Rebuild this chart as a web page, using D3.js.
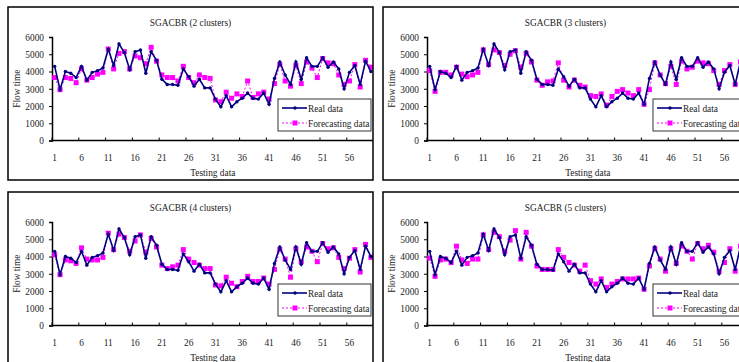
<!DOCTYPE html>
<html><head><meta charset="utf-8">
<script src="https://cdn.jsdelivr.net/npm/d3@7"></script>
<style>body{margin:0;background:#fff}svg{display:block}text{font-family:"Liberation Serif","Times New Roman",serif;fill:#222}</style>
</head><body>
<script>
const categories = d3.range(1, 61);
const tickLabels = [1,6,11,16,21,26,31,36,41,46,51,56];
const yTicks = [0,1000,2000,3000,4000,5000,6000];
const titles = ["SGACBR (2 clusters)","SGACBR (3 clusters)","SGACBR (4 clusters)","SGACBR (5 clusters)"];
const legendLabels = ["Real data","Forecasting data"];

const realData = [4300,2950,4000,3900,3650,4300,3500,3950,4050,4200,
  5300,4350,5600,5100,4100,5150,5250,3900,5150,4650,
  3550,3250,3250,3200,4150,3700,3150,3550,3050,3050,
  2400,1950,2600,1950,2250,2450,2750,2450,2400,2750,
  2100,3600,4550,3800,3250,4550,3550,4800,4300,4300,
  4800,4250,4550,4150,3000,3950,4350,3250,4600,4000];

const forecast2 = [3650,2950,3650,3600,3350,4150,3500,3650,3850,3950,
  5300,4150,5050,5150,4150,4900,4800,4450,5400,4600,
  3800,3650,3650,3450,4300,3650,3350,3800,3650,3600,
  2350,2250,2800,2450,2700,2550,3450,2500,2700,2800,
  2400,3300,4400,3450,3150,4350,3300,4550,4200,3650,
  4750,4500,4450,3800,3250,3450,4400,3100,4650,4250];

const forecast3 = [4050,2850,3950,3950,3800,4250,3850,3700,3800,3950,
  5250,4400,5250,5100,4350,5000,5200,4250,5050,4550,
  3500,3200,3400,3450,4500,3500,3100,3500,3200,3100,
  2600,2550,2700,2050,2550,2850,2950,2750,2600,2950,
  2100,2950,4500,3800,3300,4300,3250,4600,4150,4250,
  4600,4500,4450,4050,3250,4050,4400,3250,4550,4100];

const forecast4 = [4100,2950,3800,3750,3600,4500,3850,3800,3800,3950,
  5350,4400,5300,5100,4300,4900,5250,4250,5050,4550,
  3500,3300,3400,3500,4400,3850,3650,3500,3300,3300,
  2350,2300,2800,2450,2250,2550,2850,2550,2550,2750,
  2400,3250,4400,3850,2800,4450,3700,4550,4300,3700,
  4750,4450,4500,3950,3300,3900,4400,3100,4700,3950];

const forecast5 = [3900,2850,3800,3850,3650,4600,3800,3600,3850,3850,
  5250,4400,5400,5150,4300,4950,5500,3850,5400,4600,
  3450,3250,3250,3250,4400,3950,3650,3500,3150,3500,
  2600,2400,2700,2200,2400,2550,2700,2700,2700,2750,
  2100,3450,4450,3850,3150,4450,3600,4600,4300,3850,
  4750,4450,4650,4250,3150,3650,4450,3150,4600,4000];

const forecasts = [forecast2, forecast3, forecast4, forecast5];

const W = 739, H = 362;
const svg = d3.select("body").append("svg").attr("width", W).attr("height", H);

const panels = [
  {x: 8, y: 7}, {x: 383, y: 7}, {x: 8, y: 192}, {x: 383, y: 192}
];
const PW = 365, PH = 173;
const plotL = 44, plotTop = 30, plotBot = 133.5, band = 5.36;
const FS = 11, SX = 0.85;

// condensed text helper
function txt(parent, x, y, s, anchor, rot, fill) {
  const t = parent.append("g")
    .attr("transform", `translate(${x},${y})` + (rot ? ` rotate(${rot})` : "") + ` scale(${SX},1)`)
    .append("text").attr("text-anchor", anchor || "start").attr("font-size", FS).text(s);
  if (fill) t.attr("fill", fill);
  return t;
}

panels.forEach((p, idx) => {
  const cid = "clip" + idx;
  svg.append("clipPath").attr("id", cid).append("rect")
    .attr("x", p.x).attr("y", p.y).attr("width", PW).attr("height", PH);
  const g = svg.append("g").attr("clip-path", `url(#${cid})`)
    .append("g").attr("transform", `translate(${p.x},${p.y})`);

  const x = d3.scaleBand().domain(categories).range([plotL, plotL + band * categories.length]).padding(0);
  const y = d3.scaleLinear().domain([0, 6000]).range([plotBot, plotTop]);
  const cx = d => x(d) + x.bandwidth() / 2;

  txt(g, PW / 2, 19, titles[idx], "middle");

  // Y axis
  const ya = g.append("g").attr("transform", `translate(${plotL},0)`)
    .call(d3.axisLeft(y).tickValues(yTicks).tickSize(3).tickFormat(() => ""));
  ya.select(".domain").attr("stroke", "#000").attr("stroke-width", 1.5);
  ya.selectAll(".tick line").attr("stroke", "#000");
  yTicks.forEach(v => txt(g, plotL - 8, y(v) + 3.8, d3.format("d")(v), "end", 0, "#333"));

  // X axis
  const xa = g.append("g").attr("transform", `translate(0,${plotBot})`);
  xa.append("line").attr("x1", plotL).attr("x2", plotL + band * categories.length)
    .attr("stroke", "#000").attr("stroke-width", 1.5);
  xa.selectAll("line.t").data(tickLabels).join("line").attr("class", "t")
    .attr("x1", d => x(d)).attr("x2", d => x(d)).attr("y1", 0).attr("y2", -3)
    .attr("stroke", "#000");
  tickLabels.forEach(d => txt(xa, cx(d), 20, d, "middle", 0, "#333"));

  txt(g, plotL + band * 30, 169, "Testing data", "middle");
  txt(g, 12, (plotTop + plotBot) / 2, "Flow time", "middle", -90);

  const fc = forecasts[idx];
  const line = d3.line().x((d, i) => cx(categories[i])).y(d => y(d));

  // Forecast series
  g.append("path").datum(fc).attr("d", line).attr("fill", "none")
    .attr("stroke", "#ff00ff").attr("stroke-width", 1).attr("stroke-dasharray", "2,2");
  g.selectAll("rect.fm").data(fc).join("rect").attr("class", "fm")
    .attr("x", (d, i) => cx(categories[i]) - 2.5).attr("y", d => y(d) - 2.5)
    .attr("width", 5).attr("height", 5).attr("fill", "#ff00ff");

  // Real series
  g.append("path").datum(realData).attr("d", line).attr("fill", "none")
    .attr("stroke", "#000080").attr("stroke-width", 1.6);
  g.selectAll("circle.rm").data(realData).join("circle").attr("class", "rm")
    .attr("cx", (d, i) => cx(categories[i])).attr("cy", d => y(d)).attr("r", 1.7)
    .attr("fill", "#000080");

  // Legend
  const lg = g.append("g").attr("transform", "translate(270,92)");
  lg.append("rect").attr("width", 93).attr("height", 32).attr("fill", "#fff")
    .attr("stroke", "#333").attr("stroke-width", 1);
  const r1 = lg.append("g").attr("transform", "translate(0,9)");
  r1.append("line").attr("x1", 4).attr("x2", 29).attr("stroke", "#000080").attr("stroke-width", 1.6);
  r1.append("circle").attr("cx", 17).attr("r", 1.7).attr("fill", "#000080");
  txt(r1, 30, 4, legendLabels[0], "start");
  const r2 = lg.append("g").attr("transform", "translate(0,24)");
  r2.append("line").attr("x1", 4).attr("x2", 29).attr("stroke", "#ff00ff").attr("stroke-width", 1).attr("stroke-dasharray", "2,2");
  r2.append("rect").attr("x", 14.5).attr("y", -2.5).attr("width", 5).attr("height", 5).attr("fill", "#ff00ff");
  txt(r2, 30, 4, legendLabels[1], "start");

  // Panel border
  svg.append("rect").attr("x", p.x).attr("y", p.y).attr("width", PW).attr("height", PH)
    .attr("fill", "none").attr("stroke", "#000").attr("stroke-width", 1.5);
});
</script>
</body></html>
